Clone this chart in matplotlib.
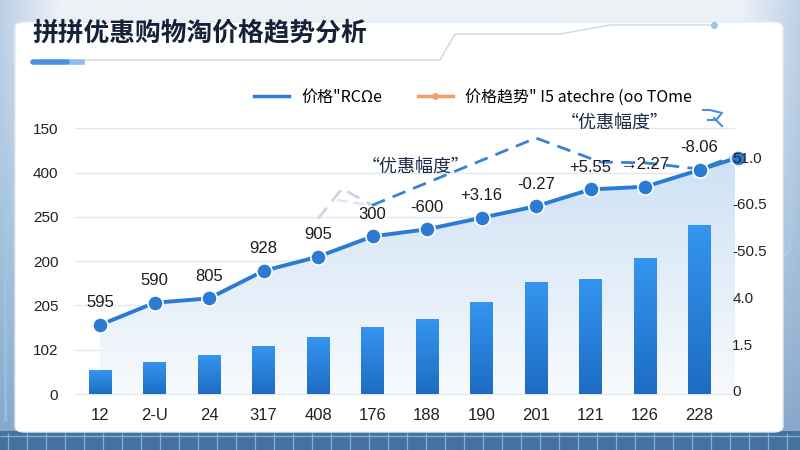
import numpy as np
import matplotlib.pyplot as plt
from matplotlib.patches import FancyBboxPatch
from matplotlib.lines import Line2D

# 数据
categories = ['12', '2-U', '24', '317', '408', '176', '188', '190', '201', '121', '126', '228']
extra_label = '201'
bar_values = [27, 36, 44, 54, 64, 76, 85, 104, 126, 130, 154, 191]

line_x = [0, 1, 2, 3, 4, 5, 6, 7, 8, 9, 10, 11, 11.7]
line_values = [78, 103, 108, 139, 155, 178, 186, 199, 212, 231, 234, 253, 267]
point_labels = ['595', '590', '805', '928', '905', '300', '-600', '+3.16',
                '-0.27', '+5.55', '→2.27', '-8.06', '']

trend_x = [4.0, 4.44, 4.99, 8.0, 9.17, 10.0, 11.0, 11.7]
trend_values = [198, 232, 213, 289, 262, 261, 254, 270]
echo_x = [4.35, 5.08]
echo_values = [219, 212]

left_ticks = [0, 50, 100, 150, 200, 250, 300]
left_labels = ['0', '102', '205', '200', '250', '400', '150']
right_ticks = [0, 1, 2, 3, 4, 5]
right_labels = ['0', '1.5', '4.0', '-50.5', '-60.5', '51.0']

title = '拼拼优惠购物淘价格趋势分析'
legend_labels = ['价格"RCΩe', '价格趋势" I5 atechre (oo TOme']
note_text = '“优惠幅度”'

CJK = ['Noto Sans CJK SC', 'DejaVu Sans']
NUM = 'Liberation Sans'
BLUE = '#2b7bd3'

fig = plt.figure(figsize=(8, 4.5), dpi=100)

# 背景
bg = fig.add_axes([0, 0, 1, 1], zorder=-10)
bg.set_axis_off()
h, w = 450, 800
yy, xx = np.mgrid[0:h, 0:w]
top = np.array([0.93, 0.95, 0.97])
bot = np.array([0.55, 0.66, 0.78])
t = (yy / h)[..., None] ** 1.5
img = top * (1 - t) + bot * t
edge = np.clip(1 - np.minimum(xx, w - xx) / 60, 0, 1)[..., None]
img = img * (1 - 0.4 * edge) + np.array([0.45, 0.62, 0.80]) * 0.4 * edge
strip = (yy > 430)[..., None]
img = np.where(strip, np.array([0.28, 0.44, 0.62]), img)
bg.imshow(img, extent=[0, w, h, 0], aspect='auto')
bg.set_xlim(0, w)
bg.set_ylim(h, 0)
bg.vlines(np.arange(8, 800, 19), 433, 450, color='#7fd0f0', lw=0.9, alpha=0.75)
bg.hlines(436, 0, 800, color='#8fdcf5', lw=1, alpha=0.6)
bg.plot([790, 790, 775, 775], [120, 250, 265, 420], color='#9fd8f0', lw=1, alpha=0.8)
bg.plot([5, 5], [150, 420], color='#8fd0ee', lw=2, alpha=0.6)

card = FancyBboxPatch((15 / 800, 1 - 432 / 450), 768 / 800, 410 / 450,
                      boxstyle='round,pad=0,rounding_size=0.012',
                      transform=fig.transFigure, fc='white', ec='#e3eaf2', lw=1, zorder=-5)
fig.patches.append(card)

# 标题与装饰线
fig.text(32 / 800, 1 - 33 / 450, title, fontsize=18.5, fontweight='bold', color='#16223a',
         family=CJK, va='center', ha='left')
fig.add_artist(Line2D([33 / 800, 68 / 800], [1 - 62 / 450] * 2, color='#4a90e2', lw=4,
                      solid_capstyle='round'))
fig.add_artist(Line2D([72 / 800, 82 / 800], [1 - 62 / 450] * 2, color='#8cbcee', lw=4))
fig.add_artist(Line2D(np.array([85, 440, 455, 560, 610, 714]) / 800,
                      1 - np.array([60, 60, 34, 34, 25, 25]) / 450,
                      color='#c9d8e8', lw=1))
fig.add_artist(Line2D([714 / 800], [1 - 25 / 450], marker='o', ms=4, color='#9cc3e8'))

# 主坐标轴
ax = fig.add_axes([75 / 800, 1 - 398 / 450, 660 / 800, 283 / 450])
ax.set_facecolor('none')
for s in ax.spines.values():
    s.set_visible(False)
ax.set_yticks(left_ticks)
ax.set_yticklabels(left_labels, fontsize=11, family=NUM, color='#222222')
ax.tick_params(axis='y', length=0, pad=12)
ax.grid(axis='y', color='#e4e7eb', lw=1)
ax.set_axisbelow(True)

xpos = list(range(len(categories))) + [11.76]
ax.set_xticks(xpos)
ax.set_xticklabels(categories + [extra_label], fontsize=12, family=NUM, color='#222222')
ax.tick_params(axis='x', length=0, pad=7)

# 折线下方渐变填充
poly = ax.fill_between(line_x, line_values, 0, color='none', lw=0, zorder=1)
grad = np.linspace(0, 1, 256)[:, None]
fill_cmap = plt.matplotlib.colors.LinearSegmentedColormap.from_list('f', ['#f7fafd', '#c9def4'])
im = ax.imshow(grad, extent=[line_x[0], line_x[-1], 0, max(line_values)], origin='lower',
               cmap=fill_cmap, aspect='auto', zorder=1, alpha=0.9)
im.set_clip_path(poly.get_paths()[0], transform=ax.transData)

# 柱状图(渐变)
bars = ax.bar(range(len(categories)), bar_values, width=0.42, color='none', zorder=3)
bar_cmap = plt.matplotlib.colors.LinearSegmentedColormap.from_list('b', ['#1d6cc3', '#3595f0'])
for b in bars:
    x0, bw, bh = b.get_x(), b.get_width(), b.get_height()
    gi = ax.imshow(grad, extent=[x0, x0 + bw, 0, bh], origin='lower', cmap=bar_cmap,
                   aspect='auto', zorder=3)
    gi.set_clip_path(b)
ax.set_xlim(-0.46, 11.65)
ax.set_ylim(-4.5, 315)

# 趋势虚线
ax.plot(trend_x[:3], trend_values[:3], color='#c9d5e4', lw=2, ls=(0, (5, 3)), zorder=4)
ax.plot(echo_x, echo_values, color='#dbe3ee', lw=1.5, ls=(0, (5, 3)), zorder=4)
ax.plot(trend_x[2:], trend_values[2:], color='#3783d2', lw=2, ls=(0, (5, 3)), zorder=4,
        clip_on=False)

# 价格折线
ax.plot(line_x, line_values, color=BLUE, lw=2.8, marker='o', ms=11, mfc=BLUE,
        mec='white', mew=1.2, zorder=6, clip_on=False)
for x, v, lab in zip(line_x, line_values, point_labels):
    if lab:
        ax.annotate(lab, (x, v), xytext=(0, 22), textcoords='offset pixels',
                    ha='center', va='center', fontsize=12, family=NUM, color='#1c1c1c',
                    zorder=7)

ax.text(5.8, 256, note_text, fontsize=13, family=CJK, color='#1b2a48', ha='center',
        va='center', zorder=7)
ax.text(9.45, 306, note_text, fontsize=13, family=CJK, color='#1b2a48', ha='center',
        va='center', zorder=7, clip_on=False)

# 右侧坐标轴
ax2 = ax.twinx()
ax2.set_ylim(-0.15, 5.9)
for s in ax2.spines.values():
    s.set_visible(False)
ax2.set_yticks(right_ticks)
ax2.set_yticklabels(right_labels, fontsize=11, family=NUM, color='#222222')
ax2.tick_params(axis='y', length=0, pad=-2)

# 图例
handles = [Line2D([], [], color='#2f7fd8', lw=2.5),
           Line2D([], [], color='#f0a068', lw=2.5, marker='o', ms=4)]
leg = fig.legend(handles, legend_labels, loc='center', bbox_to_anchor=(473 / 800, 1 - 97 / 450),
                 ncol=2, frameon=False, handlelength=2.2, columnspacing=2.2,
                 prop={'family': CJK, 'size': 11.5})

# 小购物车图标
fig.add_artist(Line2D(np.array([703, 710, 722, 716, 708]) / 800,
                      1 - np.array([110, 110, 113, 120, 120]) / 450, color='#4a90d9', lw=1.5))
fig.add_artist(Line2D(np.array([714, 722]) / 800, 1 - np.array([118, 126]) / 450,
                      color='#4a90d9', lw=1.5))

fig.savefig('out.png', dpi=100)
